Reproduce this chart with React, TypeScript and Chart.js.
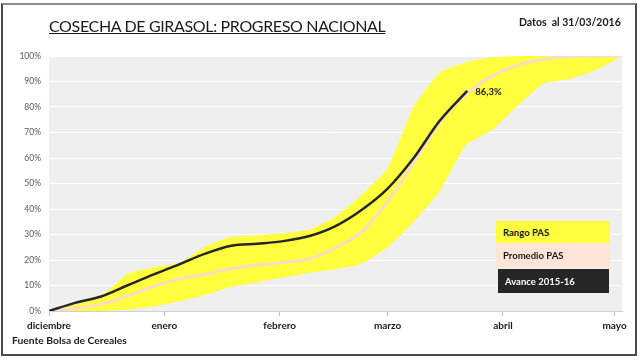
import React, { useEffect, useRef } from "react";
import { Chart, registerables } from "chart.js";

Chart.register(...registerables);

// Days counted from 1 December 2015
const monthTickDays = [0, 31, 62, 91, 122, 152];
const monthLabels = ["diciembre", "enero", "febrero", "marzo", "abril", "mayo"];

const bandDays = [0, 7, 14, 21, 28, 35, 42, 49, 56, 63, 70, 77, 84, 91, 98, 105, 112, 119, 126, 133, 140, 147, 154];
const rangoMax = [0, 2.5, 5.8, 14.5, 17.2, 18.7, 25.3, 29, 29.7, 30.5, 32, 37, 45.5, 56, 80, 93.5, 97.5, 99.5, 100, 100, 100, 100, 100];
const rangoMin = [0, 0, 0, 0.5, 1.8, 3.8, 6.3, 9.5, 11.3, 13.2, 15, 16.4, 18.5, 25, 35, 47, 65, 71, 80.5, 89.3, 91, 94.5, 100];

const promedioDays = [0, 7, 14, 21, 28, 35, 42, 49, 56, 63, 70, 77, 84, 91, 98, 105, 112, 119, 126, 133, 140, 147, 154];
const promedio = [0, 1, 2.7, 5.8, 9.6, 12.6, 14.4, 16.6, 18, 19, 20.5, 24.8, 31, 43, 58, 74, 85, 92, 96.5, 98.7, 99.8, 100, 100];

const avanceDays = [0, 7, 14, 21, 28, 35, 42, 49, 56, 63, 70, 77, 84, 91, 98, 105, 112.4];
const avance = [0, 3.2, 5.7, 10, 14.3, 18.3, 22.5, 25.6, 26.4, 27.4, 29.4, 33.3, 39.6, 48, 60, 74.6, 86.3];
const avanceLabel = "86,3%";

const FONT = "Lato, 'Open Sans', sans-serif";

const toXY = (xs: number[], ys: number[]) => xs.map((x, i) => ({ x, y: ys[i] }));

const bgPlugin = {
  id: "plotBg",
  beforeDraw(chart: any) {
    const { ctx, chartArea } = chart;
    ctx.save();
    ctx.fillStyle = "#efefef";
    ctx.fillRect(chartArea.left, chartArea.top, chartArea.right - chartArea.left, chartArea.bottom - chartArea.top);
    ctx.restore();
  },
};

const endLabelPlugin = {
  id: "endLabel",
  afterDatasetsDraw(chart: any) {
    const meta = chart.getDatasetMeta(0);
    const pts = meta.data;
    if (!pts || !pts.length) return;
    const last = pts[pts.length - 1];
    const ctx = chart.ctx;
    ctx.save();
    ctx.font = `bold 9.5px ${FONT}`;
    ctx.fillStyle = "#1a1a1a";
    ctx.textAlign = "left";
    ctx.textBaseline = "middle";
    ctx.fillText(avanceLabel, last.x + 8, last.y + 1);
    ctx.restore();
  },
};

export default function App() {
  const canvasRef = useRef<HTMLCanvasElement | null>(null);

  useEffect(() => {
    document.body.style.margin = "0";
    const canvas = canvasRef.current;
    if (!canvas) return;
    const chart = new Chart(canvas, {
      type: "line",
      data: {
        datasets: [
          {
            label: "Avance 2015-16",
            data: toXY(avanceDays, avance),
            borderColor: "#262626",
            borderWidth: 2.5,
            pointRadius: 0,
            cubicInterpolationMode: "monotone",
            fill: false,
            order: 0,
          },
          {
            label: "Promedio PAS",
            data: toXY(promedioDays, promedio),
            borderColor: "#fbdcc6",
            borderWidth: 3,
            pointRadius: 0,
            cubicInterpolationMode: "monotone",
            fill: false,
            order: 1,
          },
          {
            label: "Rango PAS max",
            data: toXY(bandDays, rangoMax),
            borderColor: "rgba(0,0,0,0)",
            borderWidth: 0,
            pointRadius: 0,
            backgroundColor: "#ffff40",
            fill: "+1",
            tension: 0.15,
            order: 2,
          },
          {
            label: "Rango PAS min",
            data: toXY(bandDays, rangoMin),
            borderColor: "rgba(0,0,0,0)",
            borderWidth: 0,
            pointRadius: 0,
            fill: false,
            tension: 0.15,
            order: 3,
          },
        ],
      },
      options: {
        responsive: false,
        animation: false,
        maintainAspectRatio: false,
        layout: { padding: { left: 0, top: 56, right: 18, bottom: 0 } },
        plugins: {
          legend: { display: false },
          tooltip: { enabled: false },
          title: { display: false },
        },
        scales: {
          x: {
            type: "linear",
            min: 0,
            max: 154,
            afterFit(scale: any) {
              scale.height = 49;
            },
            afterBuildTicks(scale: any) {
              scale.ticks = monthTickDays.map((v) => ({ value: v }));
            },
            ticks: {
              autoSkip: false,
              maxRotation: 0,
              padding: 4,
              color: "#1a1a1a",
              font: { family: FONT, size: 10, weight: "bold" },
              callback: (v: any) => {
                const i = monthTickDays.indexOf(Number(v));
                return i >= 0 ? monthLabels[i] : "";
              },
            },
            grid: {
              drawOnChartArea: false,
              drawTicks: true,
              tickLength: 5,
              color: "#bfbfbf",
            },
            border: { display: true, color: "#d0d0d0", width: 1 },
          },
          y: {
            min: 0,
            max: 100,
            afterFit(scale: any) {
              scale.width = 49;
            },
            ticks: {
              stepSize: 10,
              padding: 8,
              color: "#595959",
              font: { family: FONT, size: 8.5 },
              callback: (v: any) => `${v}%`,
            },
            grid: { color: "#ffffff", lineWidth: 1, drawTicks: false },
            border: { display: false },
          },
        },
      },
      plugins: [bgPlugin, endLabelPlugin],
    });
    return () => chart.destroy();
  }, []);

  const legendBox: React.CSSProperties = {
    position: "absolute",
    left: 496,
    width: 114,
    boxSizing: "border-box",
    paddingLeft: 7,
    display: "flex",
    alignItems: "center",
    fontFamily: FONT,
    fontWeight: "bold",
    fontSize: 9.5,
  };

  return (
    <div style={{ position: "absolute", left: 0, top: 0, width: 640, height: 360, background: "#fff", overflow: "hidden" }}>
      <div
        style={{
          position: "absolute",
          left: 1,
          top: 3,
          width: 636,
          height: 353,
          boxSizing: "border-box",
          border: "2px solid #4a4a4a",
          borderTopColor: "#8a8a8a",
        }}
      />
      <canvas ref={canvasRef} width={640} height={360} style={{ position: "absolute", left: 0, top: 0, width: 640, height: 360 }} />
      <div
        style={{
          position: "absolute",
          left: 49,
          top: 16,
          fontFamily: FONT,
          fontSize: 16,
          letterSpacing: "-0.35px",
          color: "#1a1a1a",
          textDecoration: "underline",
          whiteSpace: "nowrap",
          lineHeight: "20px",
        }}
      >
        COSECHA DE GIRASOL: PROGRESO NACIONAL
      </div>
      <div
        style={{
          position: "absolute",
          left: 519,
          top: 15,
          fontFamily: FONT,
          fontSize: 10.5,
          fontWeight: "bold",
          color: "#1a1a1a",
          whiteSpace: "nowrap",
          lineHeight: "14px",
        }}
      >
        Datos&nbsp; al 31/03/2016
      </div>
      <div
        style={{
          position: "absolute",
          left: 12,
          top: 334,
          fontFamily: FONT,
          fontSize: 10.3,
          fontWeight: "bold",
          color: "#1a1a1a",
          whiteSpace: "nowrap",
          lineHeight: "12px",
        }}
      >
        Fuente Bolsa de Cereales
      </div>
      <div style={{ ...legendBox, top: 221, height: 22, background: "#ffff40", color: "#1a1a1a" }}>Rango PAS</div>
      <div style={{ ...legendBox, top: 243, height: 25, background: "#fde6d8", color: "#1a1a1a" }}>Promedio PAS</div>
      <div style={{ ...legendBox, top: 269, height: 24, left: 498, width: 111, background: "#262626", color: "#ffffff" }}>
        Avance 2015-16
      </div>
    </div>
  );
}
